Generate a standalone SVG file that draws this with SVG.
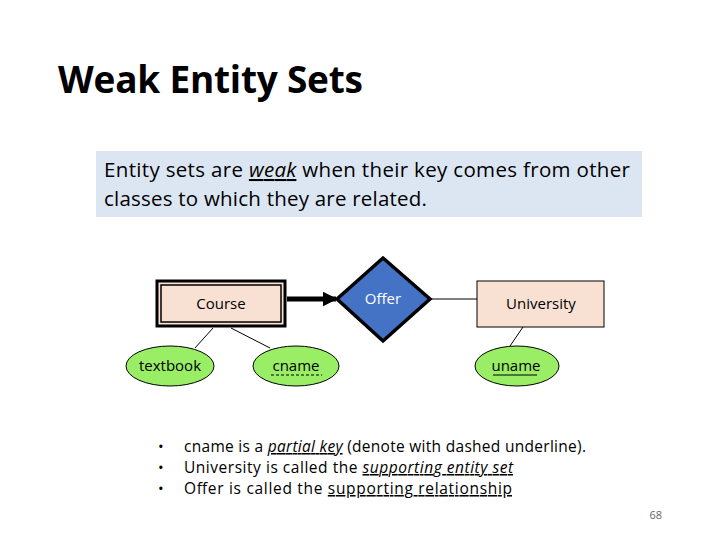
<svg xmlns="http://www.w3.org/2000/svg" width="720" height="540" viewBox="0 0 720 540">
<defs>
<style>
text{font-family:"Open Sans","Liberation Sans",sans-serif;fill:#000}
.n{font-size:15px}
.b{font-size:15.5px}
.l{stroke:#000;stroke-width:1;fill:none}
.e{fill:#99ee66;stroke:#000;stroke-width:1}
</style>
<marker id="ah" viewBox="0 0 10 10" refX="9" refY="5" markerWidth="3" markerHeight="3" orient="auto"><path d="M0,0L10,5L0,10z" fill="#000"/></marker>
</defs>
<rect width="720" height="540" fill="#fff"/>
<text x="58" y="93" textLength="305" style="font-size:37px;font-weight:bold">Weak Entity Sets</text>
<rect x="96" y="151" width="546" height="66" fill="#dce6f2"/>
<text x="104" y="177" textLength="526" style="font-size:20.5px">Entity sets are <tspan font-style="italic" text-decoration="underline">weak</tspan> when their key comes from other</text>
<text x="104" y="206" textLength="323" style="font-size:20.5px">classes to which they are related.</text>
<g id="connectors">
<line class="l" x1="287" y1="299" x2="336" y2="299" style="stroke-width:5" marker-end="url(#ah)"/>
<line class="l" x1="430" y1="299" x2="477" y2="299"/>
<line class="l" x1="213" y1="328" x2="195" y2="348"/>
<line class="l" x1="231" y1="328" x2="270" y2="348"/>
<line class="l" x1="523" y1="327" x2="510" y2="346"/>
</g>
<g id="course">
<rect x="157" y="281" width="128" height="45" fill="#f8e0d2" stroke="#000" stroke-width="3"/>
<rect x="161" y="285" width="120" height="37" fill="none" stroke="#000" stroke-width="1.5"/>
<text class="n" x="221" y="309" text-anchor="middle">Course</text>
</g>
<g id="offer">
<polygon points="383,258 430,299 383,341 337,299" fill="#4472c4" stroke="#000" stroke-width="3.5"/>
<text class="n" x="383" y="304" text-anchor="middle" style="fill:#fff">Offer</text>
</g>
<g id="university">
<rect x="477" y="281" width="127" height="46" fill="#f8e0d2" stroke="#000" stroke-width="1"/>
<text class="n" x="541" y="309" text-anchor="middle">University</text>
</g>
<g id="textbook">
<ellipse class="e" cx="170" cy="366" rx="44" ry="20"/>
<text class="n" x="170" y="371" text-anchor="middle">textbook</text>
</g>
<g id="cname">
<ellipse class="e" cx="296" cy="366" rx="43" ry="20"/>
<text class="n" x="296" y="371" text-anchor="middle">cname</text>
<line x1="271" y1="375" x2="322" y2="375" stroke="#000" stroke-dasharray="3,2"/>
</g>
<g id="uname">
<ellipse class="e" cx="517" cy="366" rx="42" ry="20"/>
<text class="n" x="516" y="371" text-anchor="middle">uname</text>
<line x1="493" y1="375" x2="537" y2="375" stroke="#000"/>
</g>
<g style="font-size:15px" xml:space="preserve">
<text x="158" y="452">•</text><text x="158" y="473">•</text><text x="158" y="494">•</text>
<text class="b" x="184" y="452" textLength="402">cname  is a <tspan font-style="italic" text-decoration="underline">partial key</tspan> (denote with dashed underline).</text>
<text class="b" x="184" y="473" textLength="329">University is called the <tspan font-style="italic" text-decoration="underline">supporting  entity  set</tspan></text>
<text class="b" x="184" y="494" textLength="328">Offer  is  called  the  <tspan text-decoration="underline">supporting  relationship</tspan></text>
</g>
<text x="662" y="519" text-anchor="end" style="font-size:11px;fill:#666">68</text>
</svg>
